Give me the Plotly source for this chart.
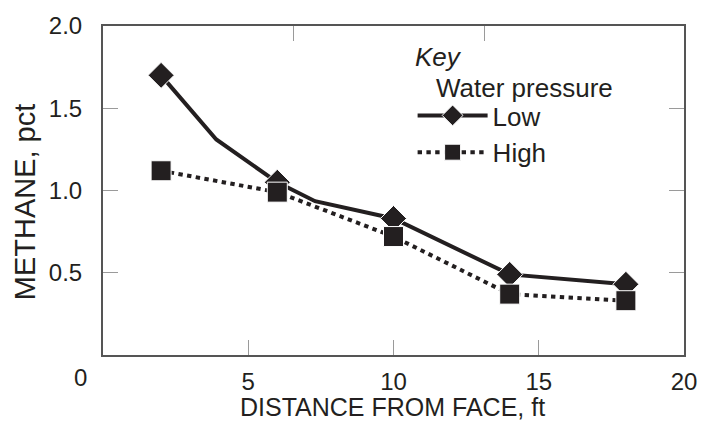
import plotly.graph_objects as go

# Methane concentration versus distance from the face, two water pressures
low_dist = [2, 6, 10, 14, 18]
low_ch4 = [1.70, 1.05, 0.83, 0.49, 0.43]
# bends in the hand-drawn Low curve between measured points
low_bend_dist = [3.9, 7.3]
low_bend_ch4 = [1.31, 0.935]

high_dist = [2, 6, 10, 14, 18]
high_ch4 = [1.12, 0.99, 0.72, 0.37, 0.33]

x_ticks = [5, 10, 15, 20]
y_ticks = [0.5, 1.0, 1.5, 2.0]
y_ticktext = ["0.5", "1.0", "1.5", "2.0"]
top_ticks_m = [2, 4]  # metric ticks along the top edge
FT_PER_M = 3.28084

INK = "#231f20"
CLEAR = "rgba(0,0,0,0)"
FONT = "Liberation Sans, Arial, sans-serif"

# Low curve: measured points plus bends, sorted along distance
pts = sorted([(x, y, True) for x, y in zip(low_dist, low_ch4)] +
             [(x, y, False) for x, y in zip(low_bend_dist, low_bend_ch4)])
lx = [p[0] for p in pts]
ly = [p[1] for p in pts]
lcol = [INK if p[2] else CLEAR for p in pts]
lline = ["white" if p[2] else CLEAR for p in pts]

fig = go.Figure()
fig.add_trace(go.Scatter(
    x=lx, y=ly, name="Low", mode="lines+markers",
    line=dict(color=INK, width=4),
    marker=dict(symbol="diamond", size=20, color=lcol,
                line=dict(color=lline, width=1)),
))
fig.add_trace(go.Scatter(
    x=high_dist, y=high_ch4, name="High", mode="lines+markers",
    line=dict(color=INK, width=4, dash="4.4px,4.4px"),
    marker=dict(symbol="square", size=20, color=INK,
                line=dict(color="white", width=1)),
))
# invisible trace carrying the top metric axis
fig.add_trace(go.Scatter(x=[0, 20], y=[0, 0], xaxis="x2", mode="none",
                         showlegend=False, hoverinfo="skip"))

axis_common = dict(showgrid=False, zeroline=False, ticks="inside", ticklen=15,
                   tickcolor="#9a9a9a", tickwidth=1, showline=True,
                   linecolor="#555555", linewidth=2,
                   tickfont=dict(family=FONT, size=24, color=INK))

PL, PT, PW, PH = 103, 16, 593, 339  # plot-area box in pixels


def px(x):
    return (x - PL) / PW


def py(y):
    return (PT + PH - y) / PH


fig.update_layout(
    width=709, height=426,
    margin=dict(l=PL, r=709 - PL - PW, t=PT, b=426 - PT - PH),
    paper_bgcolor="white", plot_bgcolor="white",
    font=dict(family=FONT, color=INK),
    xaxis=dict(range=[0, 20], tickvals=x_ticks, mirror=True,
               ticklabelstandoff=4, **axis_common),
    yaxis=dict(range=[0, 2], tickvals=y_ticks, ticktext=y_ticktext,
               mirror="ticks", ticklabelstandoff=14, **axis_common),
    xaxis2=dict(range=[0, 20], overlaying="x", side="top",
                tickvals=[m * FT_PER_M for m in top_ticks_m],
                ticks="inside", ticklen=15, tickcolor="#9a9a9a",
                showticklabels=False, showgrid=False, zeroline=False,
                showline=False),
    showlegend=True,
    legend=dict(x=px(419), y=py(84), xanchor="left", yanchor="top",
                bgcolor=CLEAR, itemwidth=70,
                font=dict(family=FONT, size=26, color=INK)),
    annotations=[
        dict(text="<i>Key</i>", xref="paper", yref="paper",
             x=px(419), y=py(48),
             xanchor="left", yanchor="middle", showarrow=False,
             font=dict(family=FONT, size=26, color=INK)),
        dict(text="Water pressure", xref="paper", yref="paper",
             x=px(441), y=py(80),
             xanchor="left", yanchor="middle", showarrow=False,
             font=dict(family=FONT, size=26, color=INK)),
        dict(text="0", xref="paper", yref="paper",
             x=px(80), y=py(378),
             xanchor="center", yanchor="middle", showarrow=False,
             font=dict(family=FONT, size=24, color=INK)),
        dict(text="DISTANCE FROM FACE, ft", xref="paper", yref="paper",
             x=px(398), y=py(409),
             xanchor="center", yanchor="middle", showarrow=False,
             font=dict(family=FONT, size=25, color=INK)),
        dict(text="METHANE, pct", xref="paper", yref="paper",
             x=px(23), y=py(197), textangle=-90,
             xanchor="center", yanchor="middle", showarrow=False,
             font=dict(family=FONT, size=29, color=INK)),
    ],
)

fig.write_html("out.html")
